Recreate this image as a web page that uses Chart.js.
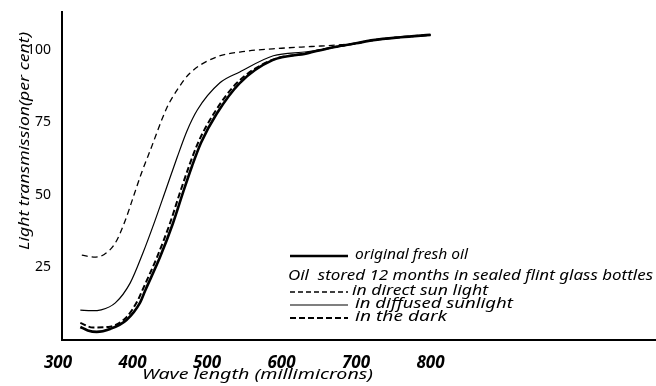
<!DOCTYPE html>
<html>
<head>
<meta charset="utf-8">
<script src="https://cdn.jsdelivr.net/npm/chart.js@4/dist/chart.umd.min.js"></script>
<style>
    body { margin: 0; background: #fff; }
    #contenedor { width: 656px; height: 386px; }
</style>
</head>
<body>
<div id="contenedor"><canvas id="grafica"></canvas></div>
<script>
// Datos (longitud de onda en milimicras, transmision en %)
const wlOriginal = [330, 340, 352, 370, 392, 410, 417, 437, 454, 468, 480, 492, 513, 544, 588, 634, 665, 700, 723, 760, 800];
const tOriginal = [4.5, 3.3, 2.8, 3.8, 6.9, 12.8, 17, 28.6, 40, 51, 60, 68, 78, 88.6, 96.5, 98.8, 100.7, 102.3, 103.4, 104.4, 105.2];

const wlDirecta = [332, 348, 362, 377, 390, 402, 412, 424, 446, 462, 477, 513, 544, 600, 640, 680, 700, 723, 760, 800];
const tDirecta = [29.3, 28.6, 29.5, 33.5, 41, 50, 57.5, 65.5, 80, 87, 92, 97.6, 99.3, 100.6, 101.2, 101.8, 102.3, 103.4, 104.4, 105.2];

const wlDifusa = [330, 345, 358, 377, 397, 414, 430, 445, 460, 473, 487, 517, 544, 589, 634, 678, 700, 723, 760, 800];
const tDifusa = [10.3, 10.1, 10.4, 12.8, 19.7, 30, 41, 52, 63, 72, 79.3, 88.6, 92.4, 98, 99.4, 101.2, 102.3, 103.4, 104.4, 105.2];

const wlOscuro = [330, 347, 370, 392, 407, 413, 433, 450, 464, 476, 488, 509, 540, 585, 630, 665, 700, 723, 760, 800];
const tOscuro = [5.9, 4.3, 4.6, 7.9, 13.6, 17, 28.6, 40, 51, 60, 68, 78, 88.6, 96.3, 98.8, 100.7, 102.3, 103.4, 104.4, 105.2];

const ticksX = [300, 400, 500, 600, 700, 800];
const ticksY = [25, 50, 75, 100];

const fuente = '"Noto Sans", "DejaVu Sans", sans-serif';

const puntos = (xs, ys) => xs.map((x, i) => ({ x: x, y: ys[i] }));

// Escribe un texto estirado/encogido para que ocupe un ancho dado
const textoAjustado = (ctx, txt, x, y, ancho) => {
    const w = ctx.measureText(txt).width;
    ctx.save();
    ctx.translate(x, y);
    ctx.scale(ancho / w, 1);
    ctx.fillText(txt, 0, 0);
    ctx.restore();
};

const muestra = (ctx, y, dash, grosor) => {
    ctx.save();
    ctx.strokeStyle = '#000';
    ctx.lineWidth = grosor;
    ctx.setLineDash(dash);
    ctx.beginPath();
    ctx.moveTo(290, y);
    ctx.lineTo(348, y);
    ctx.stroke();
    ctx.restore();
};

const textos = {
    id: 'textos',
    afterDraw: (chart) => {
        const ctx = chart.ctx;
        ctx.save();
        ctx.fillStyle = '#000';
        ctx.textBaseline = 'middle';
        ctx.textAlign = 'left';

        // titulo eje Y
        ctx.font = 'italic 15px ' + fuente;
        ctx.save();
        ctx.translate(25, 250);
        ctx.rotate(-Math.PI / 2);
        textoAjustado(ctx, 'Light transmission(per cent)', 0, 0, 218);
        ctx.restore();

        // titulo eje X
        ctx.font = 'italic 15px ' + fuente;
        textoAjustado(ctx, 'Wave length (millimicrons)', 142, 375, 231);

        // leyenda
        ctx.font = 'italic 14px ' + fuente;
        muestra(ctx, 256, [], 2.5);
        textoAjustado(ctx, 'original fresh oil', 355, 255, 113);
        textoAjustado(ctx, 'Oil  stored 12 months in sealed flint glass bottles', 288, 276, 365);
        muestra(ctx, 292, [5, 3], 1.3);
        textoAjustado(ctx, 'in direct sun light', 352, 291, 136);
        muestra(ctx, 305, [], 1.2);
        textoAjustado(ctx, 'in diffused sunlight', 355, 304, 158);
        muestra(ctx, 318, [6, 3], 2);
        textoAjustado(ctx, 'in the dark', 355, 317, 92);
        ctx.restore();
    }
};

const ctx = document.getElementById('grafica').getContext('2d');
new Chart(ctx, {
    type: 'line',
    data: {
        datasets: [
            {
                label: 'original fresh oil',
                data: puntos(wlOriginal, tOriginal),
                borderColor: '#000',
                borderWidth: 2.6
            },
            {
                label: 'in direct sun light',
                data: puntos(wlDirecta, tDirecta),
                borderColor: '#000',
                borderWidth: 1.3,
                borderDash: [6, 4]
            },
            {
                label: 'in diffused sunlight',
                data: puntos(wlDifusa, tDifusa),
                borderColor: '#000',
                borderWidth: 1.2
            },
            {
                label: 'in the dark',
                data: puntos(wlOscuro, tOscuro),
                borderColor: '#000',
                borderWidth: 2,
                borderDash: [6, 3]
            }
        ]
    },
    options: {
        responsive: true,
        maintainAspectRatio: false,
        animation: false,
        devicePixelRatio: 1,
        layout: { padding: { top: 12, right: 0, left: 0, bottom: 0 } },
        elements: {
            point: { radius: 0 },
            line: { cubicInterpolationMode: 'monotone', fill: false }
        },
        plugins: {
            legend: { display: false },
            tooltip: { enabled: false }
        },
        scales: {
            x: {
                type: 'linear',
                min: 305.4,
                max: 1102.7,
                grid: { display: false },
                border: { display: true, color: '#000', width: 2 },
                ticks: {
                    color: '#000',
                    padding: 5,
                    maxRotation: 0,
                    font: { family: fuente, size: 17, style: 'italic', weight: 'bold' }
                },
                afterBuildTicks: (scale) => {
                    scale.ticks = ticksX.map(v => ({ value: v }));
                },
                afterFit: (scale) => {
                    scale.height = 46;
                }
            },
            y: {
                min: 0,
                max: 113.1,
                grid: { display: false },
                border: { display: true, color: '#000', width: 2 },
                ticks: {
                    color: '#000',
                    padding: 3,
                    font: { family: fuente, size: 14 }
                },
                afterBuildTicks: (scale) => {
                    scale.ticks = ticksY.map(v => ({ value: v }));
                },
                afterFit: (scale) => {
                    scale.width = 62;
                }
            }
        }
    },
    plugins: [textos]
});
</script>
</body>
</html>
